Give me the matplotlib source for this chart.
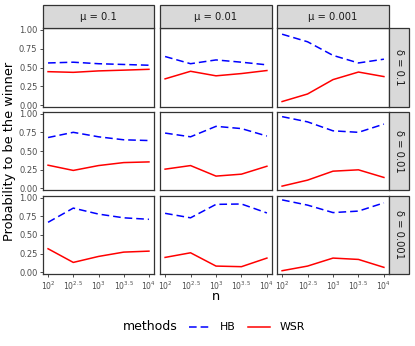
import matplotlib
matplotlib.use("Agg")
import matplotlib.pyplot as plt
from matplotlib.patches import Rectangle
from matplotlib.lines import Line2D
import numpy as np

# ---- data ----
n_log = [2, 2.5, 3, 3.5, 4]
x_tick_labels = [r"$10^{2}$", r"$10^{2.5}$", r"$10^{3}$", r"$10^{3.5}$", r"$10^{4}$"]
mu_labels = ["μ = 0.1", "μ = 0.01", "μ = 0.001"]
delta_labels = ["δ = 0.1", "δ = 0.01", "δ = 0.001"]
y_ticks = [0.0, 0.25, 0.5, 0.75, 1.0]
y_tick_labels = ["0.00", "0.25", "0.50", "0.75", "1.00"]

# HB[row=delta][col=mu]
hb = [
    [[0.56, 0.57, 0.55, 0.54, 0.53], [0.645, 0.55, 0.60, 0.57, 0.535], [0.94, 0.84, 0.66, 0.56, 0.61]],
    [[0.68, 0.75, 0.69, 0.65, 0.64], [0.74, 0.69, 0.83, 0.80, 0.70], [0.96, 0.89, 0.77, 0.75, 0.86]],
    [[0.67, 0.86, 0.78, 0.73, 0.71], [0.79, 0.73, 0.91, 0.915, 0.795], [0.97, 0.90, 0.80, 0.82, 0.93]],
]
wsr = [
    [[0.445, 0.436, 0.455, 0.465, 0.476], [0.35, 0.45, 0.39, 0.42, 0.46], [0.05, 0.15, 0.34, 0.44, 0.38]],
    [[0.31, 0.24, 0.305, 0.345, 0.354], [0.257, 0.305, 0.164, 0.19, 0.296], [0.03, 0.11, 0.23, 0.248, 0.146]],
    [[0.316, 0.133, 0.213, 0.271, 0.284], [0.20, 0.262, 0.084, 0.076, 0.191], [0.022, 0.084, 0.191, 0.173, 0.067]],
]

W, H = 415, 346
fig = plt.figure(figsize=(W / 100, H / 100), dpi=100)

cols_px = [(43, 154), (160, 272), (277, 389)]
rows_px = [(28, 107), (112, 190), (196, 274)]
strip_top = (5, 28)
strip_right = (389, 409)

border = "#333333"
strip_bg = "#D9D9D9"
tick_col = "#4D4D4D"

def fx(px):
    return px / W

def fy(py):
    return 1 - py / H

for r, (y0, y1) in enumerate(rows_px):
    for c, (x0, x1) in enumerate(cols_px):
        ax = fig.add_axes([fx(x0), fy(y1), fx(x1) - fx(x0), (y1 - y0) / H])
        ax.plot(n_log, hb[r][c], color="#0000FF", lw=1.1, linestyle=(0, (5, 2.6)))
        ax.plot(n_log, wsr[r][c], color="#FF0000", lw=1.1)
        ax.set_xlim(1.9, 4.1)
        ax.set_ylim(-0.022, 1.022)
        for s in ax.spines.values():
            s.set_color(border)
            s.set_linewidth(0.9)
        ax.set_yticks(y_ticks)
        ax.set_xticks(n_log)
        ax.tick_params(length=2.5, width=0.7, color=tick_col, pad=1.5, labelcolor=tick_col)
        if c == 0:
            ax.set_yticklabels(y_tick_labels, fontsize=6.0)
        else:
            ax.set_yticklabels([])
            ax.tick_params(axis="y", length=0)
        if r == 2:
            ax.set_xticklabels(x_tick_labels, fontsize=5.6)
        else:
            ax.set_xticklabels([])
            ax.tick_params(axis="x", length=0)

# top strips
for c, (x0, x1) in enumerate(cols_px):
    fig.add_artist(Rectangle((fx(x0), fy(strip_top[1])), fx(x1) - fx(x0), (strip_top[1] - strip_top[0]) / H,
                             transform=fig.transFigure, facecolor=strip_bg, edgecolor=border, lw=0.9))
    fig.text(fx((x0 + x1) / 2), fy((strip_top[0] + strip_top[1]) / 2), mu_labels[c],
             ha="center", va="center", fontsize=7.2, color="#1A1A1A")

# right strips
for r, (y0, y1) in enumerate(rows_px):
    fig.add_artist(Rectangle((fx(strip_right[0]), fy(y1)), fx(strip_right[1]) - fx(strip_right[0]), (y1 - y0) / H,
                             transform=fig.transFigure, facecolor=strip_bg, edgecolor=border, lw=0.9))
    fig.text(fx((strip_right[0] + strip_right[1]) / 2), fy((y0 + y1) / 2), delta_labels[r],
             ha="center", va="center", rotation=-90, fontsize=7.2, color="#1A1A1A")

# axis titles
fig.text(fx(10), fy((28 + 274) / 2), "Probability to be the winner", rotation=90,
         ha="center", va="center", fontsize=9.3, color="black")
fig.text(fx(216), fy(297), "n", ha="center", va="center", fontsize=9.3, color="black")

# legend
fig.text(fx(123), fy(327), "methods", ha="left", va="center", fontsize=9.0)
fig.add_artist(Line2D([fx(189), fx(212)], [fy(327), fy(327)], transform=fig.transFigure,
                      color="#0000FF", lw=1.1, linestyle=(0, (5, 2.6))))
fig.text(fx(220), fy(327), "HB", ha="left", va="center", fontsize=7.8)
fig.add_artist(Line2D([fx(248), fx(270)], [fy(327), fy(327)], transform=fig.transFigure,
                      color="#FF0000", lw=1.1))
fig.text(fx(280), fy(327), "WSR", ha="left", va="center", fontsize=7.8)

fig.savefig("out.png", dpi=100)
